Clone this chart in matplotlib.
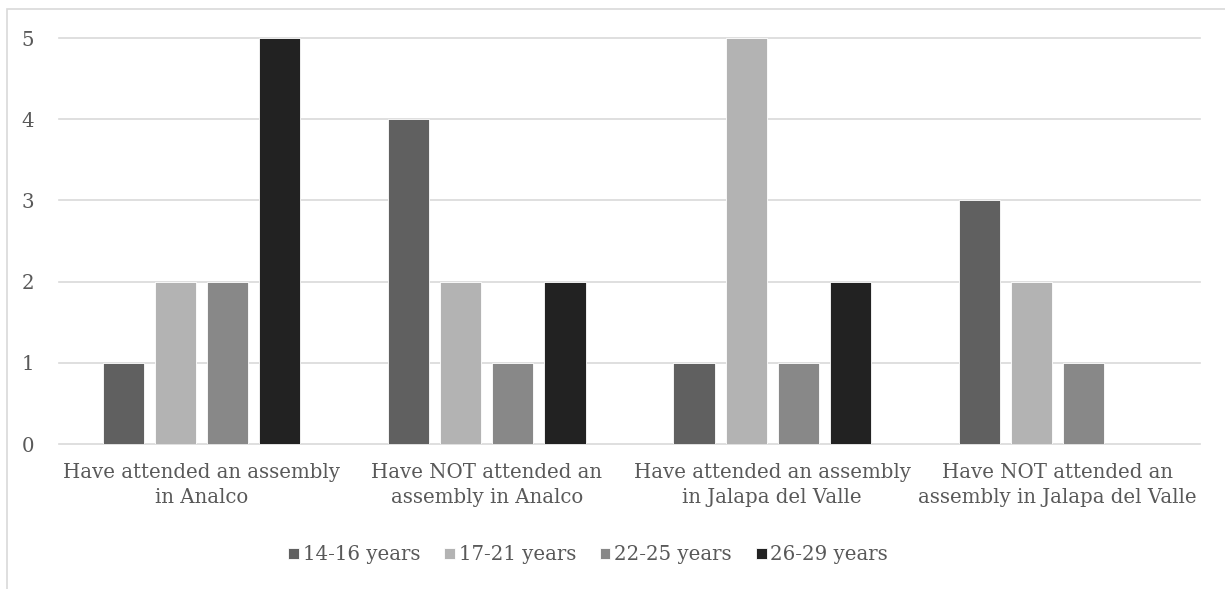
import numpy as np
import matplotlib.pyplot as plt
from matplotlib.patches import Rectangle

# Dados do gráfico
categorias = ["Have attended an assembly\nin Analco",
              "Have NOT attended an\nassembly in Analco",
              "Have attended an assembly\nin Jalapa del Valle",
              "Have NOT attended an\nassembly in Jalapa del Valle"]
faixas = ["14-16 years", "17-21 years", "22-25 years", "26-29 years"]
v_14_16 = [1, 4, 1, 3]
v_17_21 = [2, 2, 5, 2]
v_22_25 = [2, 1, 1, 1]
v_26_29 = [5, 2, 2, 0]
cores = ["#606060", "#b3b3b3", "#888888", "#222222"]

series = [v_14_16, v_17_21, v_22_25, v_26_29]

plt.rcParams['font.family'] = ['DejaVu Serif']
texto = "#595959"
tam = 14.2

fig = plt.figure(figsize=(12.25, 5.89), dpi=100)
ax = fig.add_axes([59/1225, 1 - 444/589, (1200 - 59)/1225, (444 - 38)/589])

x = np.arange(len(categorias))
largura = 0.144
passo = 0.1825
for i, (vals, nome, cor) in enumerate(zip(series, faixas, cores)):
    pos = x + (i - 1.5) * passo
    ax.bar(pos, vals, width=largura, color=cor, label=nome, zorder=3,
           edgecolor="white", linewidth=0.6)

ax.set_xlim(-0.5, 3.5)
ax.set_ylim(0, 5)
ax.set_yticks(range(6))
ax.grid(axis='y', color="#d9d9d9", linewidth=1.2, zorder=0)
for g in ax.get_ygridlines():
    g.set_clip_on(False)
for s in ax.spines.values():
    s.set_visible(False)
ax.tick_params(axis='both', length=0, colors=texto, labelsize=tam)
ax.tick_params(axis='y', pad=18)
ax.tick_params(axis='x', pad=14)
ax.set_xticks(x)
ax.set_xticklabels(categorias, linespacing=1.4)

leg = fig.legend(loc='center', bbox_to_anchor=(588/1225, 1 - 555/589), ncol=4,
                 frameon=False, fontsize=tam, handlelength=0.55, handleheight=0.55,
                 handletextpad=0.2, columnspacing=1.2, labelcolor=texto)

fig.patches.append(Rectangle((7/1225, -0.5), 1.5, 1 - 9/589 + 0.5,
                             transform=fig.transFigure, fill=False,
                             edgecolor="#d9d9d9", linewidth=1.2))

fig.savefig("out.png", dpi=100)
